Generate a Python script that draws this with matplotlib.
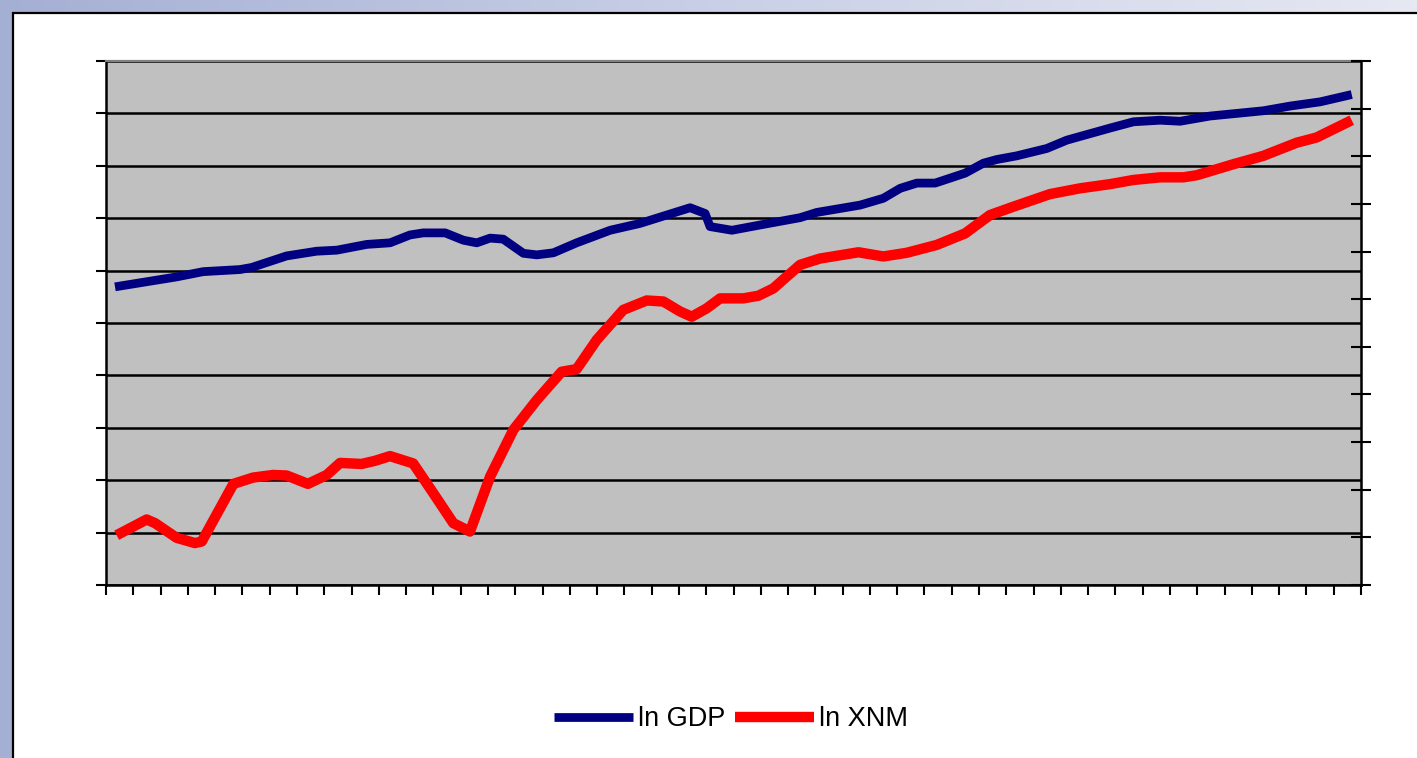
import matplotlib.pyplot as plt
import numpy as np
from matplotlib.patches import Rectangle
from matplotlib.colors import LinearSegmentedColormap

plt.rcParams['font.family'] = ['Liberation Sans', 'DejaVu Sans']

# time position in tick units (axis has 46 tick intervals), values in grid units
gdp_t = [0.33, 2.59, 3.56, 4.91, 5.34, 6.62, 7.72, 8.46, 9.56, 10.41, 11.14, 11.63,
         12.43, 13.10, 13.59, 14.08, 14.56, 15.30, 15.79, 16.40, 17.25, 18.48, 19.57,
         20.55, 21.41, 21.96, 22.14, 22.94, 23.97, 25.44, 26.05, 27.64, 28.49, 29.11,
         29.72, 30.39, 31.49, 32.16, 32.65, 33.38, 34.48, 35.22, 36.80, 37.66, 38.64,
         39.37, 40.47, 42.42, 43.40, 44.50, 45.66]
gdp_v = [5.69, 5.88, 5.98, 6.02, 6.06, 6.28, 6.37, 6.39, 6.50, 6.53, 6.68, 6.72,
         6.72, 6.58, 6.53, 6.62, 6.60, 6.33, 6.30, 6.34, 6.53, 6.77, 6.90,
         7.06, 7.20, 7.09, 6.84, 6.77, 6.87, 7.01, 7.11, 7.25, 7.38, 7.57,
         7.67, 7.67, 7.86, 8.05, 8.12, 8.19, 8.33, 8.49, 8.72, 8.84, 8.87,
         8.85, 8.95, 9.05, 9.14, 9.22, 9.36]

xnm_t = [0.39, 1.49, 1.80, 2.59, 3.26, 3.51, 4.67, 5.39, 6.12, 6.62, 7.40, 8.09,
         8.58, 9.37, 9.86, 10.41, 11.26, 12.00, 12.73, 13.34, 14.08, 14.93, 15.79,
         16.70, 17.25, 17.99, 18.96, 19.82, 20.43, 21.04, 21.47, 22.02, 22.51, 23.36,
         23.91, 24.46, 25.44, 26.17, 27.58, 28.49, 29.35, 30.45, 31.49, 32.40, 33.26,
         34.60, 35.70, 36.80, 37.66, 38.64, 39.49, 39.98, 41.32, 42.42, 43.64, 44.37,
         45.66]
xnm_v = [0.95, 1.25, 1.18, 0.90, 0.80, 0.83, 1.93, 2.05, 2.10, 2.09, 1.93, 2.10,
         2.33, 2.31, 2.37, 2.46, 2.32, 1.75, 1.18, 1.02, 2.07, 2.96, 3.53,
         4.07, 4.12, 4.68, 5.25, 5.43, 5.41, 5.22, 5.12, 5.28, 5.47, 5.47,
         5.52, 5.66, 6.11, 6.23, 6.35, 6.27, 6.34, 6.49, 6.71, 7.06, 7.22,
         7.46, 7.57, 7.65, 7.73, 7.78, 7.78, 7.82, 8.03, 8.19, 8.44, 8.54,
         8.87]

W, H = 1417, 758
fig = plt.figure(figsize=(W / 100, H / 100), dpi=100)

# slide background gradient
bg = fig.add_axes([0, 0, 1, 1], zorder=-10)
cmap = LinearSegmentedColormap.from_list('bg', ['#a4afd4', '#c9cfe6', '#e6e8f2'])
bg.imshow(np.linspace(0, 1, 256)[None, :], aspect='auto', cmap=cmap, extent=[0, 1, 0, 1])
bg.axis('off')

# white chart area with black border
fig.patches.append(Rectangle((12.5 / W, -0.1), 1.2, 1.1 - 12.5 / H, transform=fig.transFigure,
                             facecolor='white', edgecolor='black', lw=1.6, zorder=-5))

ax = fig.add_axes([106 / W, 1 - 585 / H, (1361 - 106) / W, (585 - 61) / H])
ax.set_facecolor('#c0c0c0')
ax.set_xlim(0, 46)
ax.set_ylim(0, 10)
ax.set_xticks(np.arange(0, 47))
ax.set_yticks(np.arange(0, 11))
ax.set_xticklabels([])
ax.set_yticklabels([])
ax.yaxis.grid(True, color='black', lw=1.8)
ax.set_axisbelow(True)
ax.tick_params(axis='both', direction='out', length=7, width=1.5, color='black')
for s in ['left', 'bottom']:
    ax.spines[s].set_color('black')
    ax.spines[s].set_linewidth(1.8)
ax.spines['top'].set_color('#808080')
ax.spines['top'].set_linewidth(1.6)
ax.spines['right'].set_visible(False)

l1, = ax.plot(gdp_t, gdp_v, color='#000080', lw=6.3, solid_capstyle='butt',
              solid_joinstyle='round', label='ln GDP', zorder=3)
l2, = ax.plot(xnm_t, xnm_v, color='#ff0000', lw=7.5, solid_capstyle='butt',
              solid_joinstyle='round', label='ln XNM', zorder=3)

ax2 = ax.twinx()
ax2.set_ylim(0, 11)
ax2.set_yticks(np.arange(0, 12))
ax2.set_yticklabels([])
ax2.tick_params(axis='y', direction='inout', length=14, width=1.5, color='black')
ax2.spines['right'].set_color('black')
ax2.spines['right'].set_linewidth(1.8)
for s in ['left', 'top', 'bottom']:
    ax2.spines[s].set_visible(False)

fig.legend(handles=[l1, l2], loc='center', bbox_to_anchor=(0.516, 1 - 719 / H), ncol=2,
           frameon=False, fontsize=19.5, handlelength=2.9, handletextpad=0.2,
           columnspacing=0.35)

fig.savefig('out.png', dpi=100)
